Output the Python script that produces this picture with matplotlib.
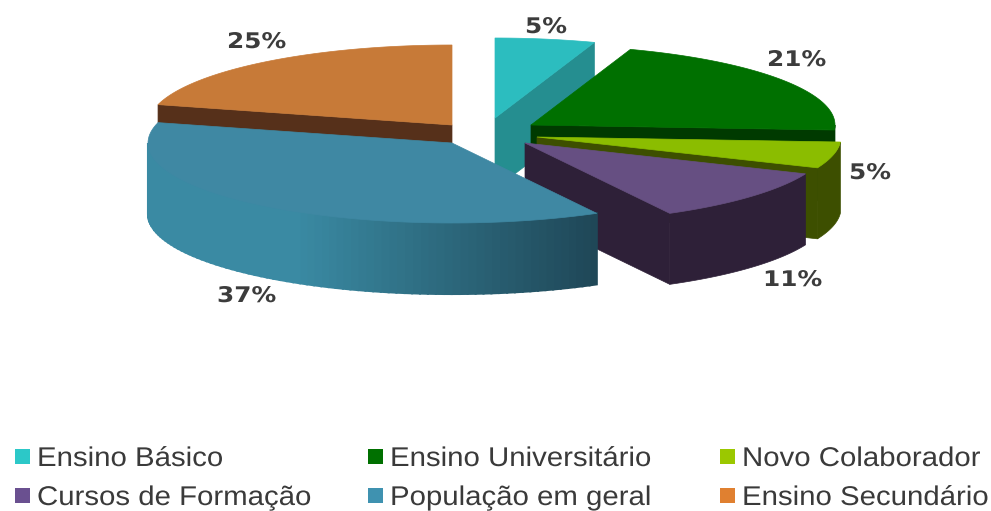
#3D style exploded pie, drawn with polygons
import numpy as np
import matplotlib
matplotlib.use('Agg')
import matplotlib.pyplot as plt
from matplotlib.patches import Polygon, Rectangle
from matplotlib.patheffects import AbstractPathEffect
from matplotlib.transforms import Affine2D
from matplotlib.colors import to_rgb

#Data (the printed percents add up to 104, the last slice stops at 360 deg)
names = ['Ensino Básico', 'Ensino Universitário', 'Novo Colaborador',
         'Cursos de Formação', 'População em geral', 'Ensino Secundário']
values = [5.3, 20.7, 5.3, 10.8, 37, 25]

#Styles
top_colors = ['#2cbdbf', '#007000', '#8bbd00', '#664f82', '#3f88a3', '#c77a38']
side_colors = ['#258e90', '#003a00', '#3d4f00', '#2e2038', '#3a8aa3', '#56301a']
legend_colors = ['#2cc8c8', '#007000', '#9bc800', '#6a5090', '#3f92b0', '#e08030']
apex_x = [495, 531, 537, 525, 452, 452]
apex_y = [118, 125, 137, 143, 143, 125]
label_left = [525, 767, 849, 763, 217, 227]
label_y = [27, 60, 173, 280, 296, 42]
draw_order = [0, 5, 1, 2, 3, 4]
rx = 304
ry = 80
depth = 71


#Text in the picture is wider than the fonts, so stretch it sideways
class Stretch(AbstractPathEffect):
    def __init__(self, sx):
        super().__init__()
        self.sx = sx

    def draw_path(self, renderer, gc, tpath, affine, rgbFace=None):
        renderer.draw_path(gc, tpath, Affine2D().scale(self.sx, 1) + affine, rgbFace)


fig = plt.figure(figsize=(9.91, 5.11), dpi=100)
ax = fig.add_axes([0, 0, 1, 1])
ax.set_xlim(0, 991)
ax.set_ylim(511, 0)
ax.axis('off')

edges = np.minimum(np.cumsum([0] + values) * 3.6, 360)


def rim(i, t):
    t = np.radians(t)
    return apex_x[i] + rx * np.sin(t), apex_y[i] - ry * np.cos(t)


for i in draw_order:
    t0, t1 = edges[i], edges[i + 1]
    cx, cy = apex_x[i], apex_y[i]

    #flat cut faces that look towards the viewer
    cut = t1 if t1 < 180 else (t0 if t0 > 180 else None)
    if cut is not None:
        x, y = rim(i, cut)
        ax.add_patch(Polygon([(cx, cy), (x, y), (x, y + depth), (cx, cy + depth)],
                             fc=side_colors[i], ec=side_colors[i], lw=0.5))

    #outer wall
    a = max(t0, 90)
    b = min(t1, 270)
    if b > a:
        ts = np.linspace(a, b, 80)
        xs, ys = rim(i, ts)
        if i == 4:
            #blue slice gets darker to the right, drawn in strips
            for k in range(len(ts) - 1):
                f = np.clip((xs[k] - 300) / 298, 0, 1)
                col = tuple((1 - f) * np.array(to_rgb('#3a8aa3')) + f * np.array(to_rgb('#1f4757')))
                ax.add_patch(Polygon([(xs[k], ys[k]), (xs[k + 1], ys[k + 1]),
                                      (xs[k + 1], ys[k + 1] + depth), (xs[k], ys[k] + depth)],
                                     fc=col, ec=col, lw=1.5))
        else:
            pts = list(zip(xs, ys)) + list(zip(xs[::-1], ys[::-1] + depth))
            ax.add_patch(Polygon(pts, fc=side_colors[i], ec=side_colors[i], lw=0.5))

    #top surface
    ts = np.linspace(t0, t1, 80)
    xs, ys = rim(i, ts)
    pts = [(cx, cy)] + list(zip(xs, ys))
    ax.add_patch(Polygon(pts, fc=top_colors[i], ec=top_colors[i], lw=0.5))

#percent labels
for i in range(len(values)):
    txt = ax.text(label_left[i], label_y[i], '%.0f%%' % values[i], fontsize=15.5,
                  fontweight='bold', family='DejaVu Sans', color='#3c3c3c',
                  ha='left', va='center')
    txt.set_path_effects([Stretch(1.15)])

#legend, three columns and two rows
col_x = [15, 368, 720]
row_y = [457, 496]
for i, name in enumerate(names):
    x = col_x[i % 3]
    y = row_y[i // 3]
    ax.add_patch(Rectangle((x, y - 7.5), 15, 15, fc=legend_colors[i], ec='none'))
    txt = ax.text(x + 22, y + 2, name, fontsize=19.5, family='Liberation Sans',
                  color='#3a3a3a', ha='left', va='center')
    txt.set_path_effects([Stretch(1.085)])

fig.savefig('out.png', dpi=100)
